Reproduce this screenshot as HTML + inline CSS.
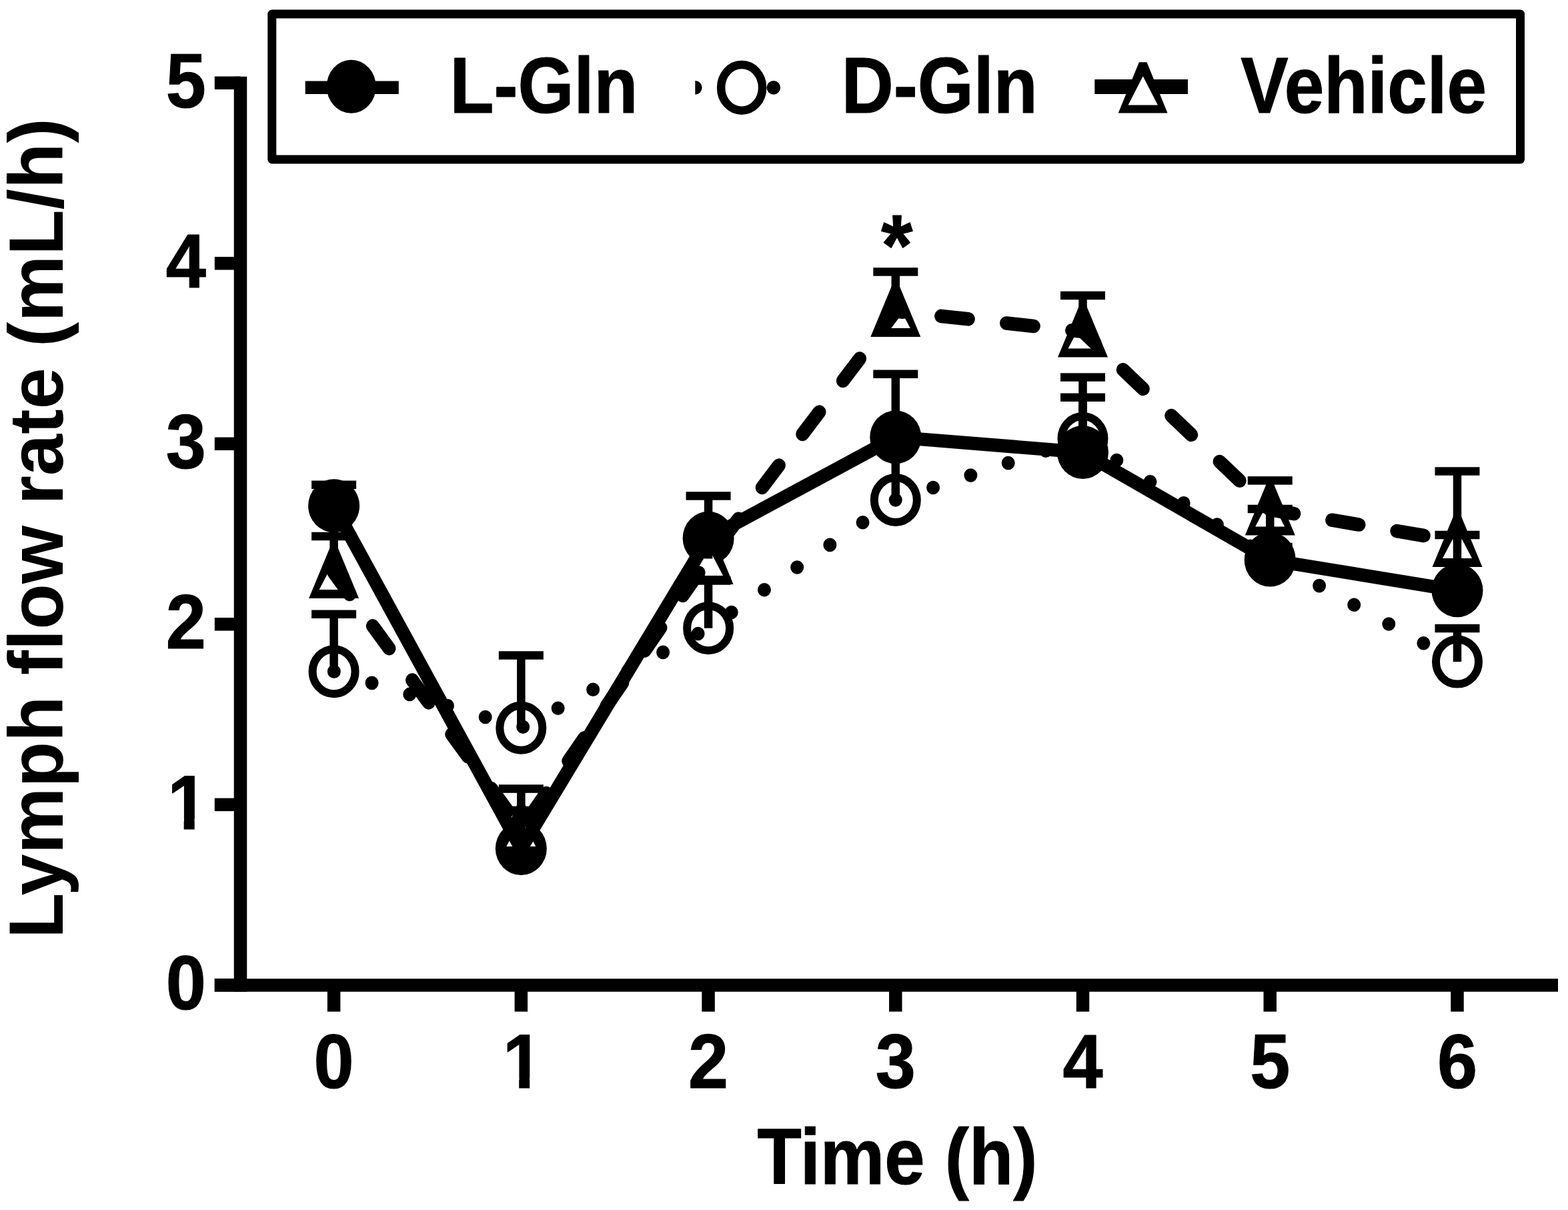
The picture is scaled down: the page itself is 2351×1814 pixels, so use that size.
<!DOCTYPE html><html><head><meta charset="utf-8"><style>html,body{margin:0;padding:0;background:#fff;}svg{display:block;}text{font-family:"Liberation Sans",Arial,sans-serif;font-weight:bold;fill:#000;stroke:#000;stroke-width:1.1px;stroke-linejoin:round;}</style></head><body>
<svg width="2351" height="1814" viewBox="0 0 2351 1814">
<rect width="2351" height="1814" fill="#fff"/>
<rect x="407.8" y="21.1" width="1871.7" height="217.9" fill="none" stroke="#000" stroke-width="13" stroke-linejoin="round"/>
<rect x="457.7" y="121.5" width="140.1" height="19.5" fill="#000"/>
<ellipse cx="526.7" cy="129.8" rx="37" ry="40" fill="#000"/>
<path d="M1042.3,121.1 A10.3,10.3 0 0 1 1042.3,141.7 Z" fill="#000"/>
<circle cx="1159.8" cy="131.4" r="10.3" fill="#000"/>
<ellipse cx="1112.1" cy="131.4" rx="31" ry="34.3" fill="#fff" stroke="#000" stroke-width="12.5"/>
<rect x="1641.3" y="119" width="139.7" height="22" fill="#000"/>
<path d="M1707.9,93.2 L1719.5,93.2 L1750.6,169.5 L1676.7,169.5 Z" fill="#000"/><path d="M1713.7,114.2 L1735.9,157.5 L1691.5,157.5 Z" fill="#fff"/>
<text transform="translate(674.50,168.80) scale(1,1.1000)" font-size="108" text-anchor="start" >L-Gln</text>
<text transform="translate(1261.70,169.00) scale(1,1.1000)" font-size="108" text-anchor="start" >D-Gln</text>
<text transform="translate(1860.20,168.90) scale(1,1.1100)" font-size="107" text-anchor="start" >Vehicle</text>
<rect x="350.75" y="114.8" width="19.5" height="1372.0" fill="#000"/>
<rect x="321.8" y="1467.25" width="2014.2" height="19.5" fill="#000"/>
<rect x="321.8" y="1467.05" width="38.7" height="19.5" fill="#000"/>
<text transform="translate(278.80,1513.10) scale(1,1.0700)" font-size="108" text-anchor="middle" >0</text>
<rect x="321.8" y="1196.55" width="38.7" height="19.5" fill="#000"/>
<text transform="translate(281.30,1242.60) scale(1,1.0700)" font-size="108" text-anchor="middle" >1</text>
<rect x="321.8" y="926.05" width="38.7" height="19.5" fill="#000"/>
<text transform="translate(278.80,972.10) scale(1,1.0700)" font-size="108" text-anchor="middle" >2</text>
<rect x="321.8" y="655.55" width="38.7" height="19.5" fill="#000"/>
<text transform="translate(278.80,701.60) scale(1,1.0700)" font-size="108" text-anchor="middle" >3</text>
<rect x="321.8" y="385.05" width="38.7" height="19.5" fill="#000"/>
<text transform="translate(278.80,431.10) scale(1,1.0700)" font-size="108" text-anchor="middle" >4</text>
<rect x="321.8" y="114.55" width="38.7" height="19.5" fill="#000"/>
<text transform="translate(278.80,160.60) scale(1,1.0700)" font-size="108" text-anchor="middle" >5</text>
<rect x="490.85" y="1477" width="19.5" height="39.6" fill="#000"/>
<text transform="translate(500.60,1630.80) scale(1,1.0700)" font-size="108" text-anchor="middle" >0</text>
<rect x="771.58" y="1477" width="19.5" height="39.6" fill="#000"/>
<text transform="translate(783.83,1630.80) scale(1,1.0700)" font-size="108" text-anchor="middle" >1</text>
<rect x="1052.31" y="1477" width="19.5" height="39.6" fill="#000"/>
<text transform="translate(1062.06,1630.80) scale(1,1.0700)" font-size="108" text-anchor="middle" >2</text>
<rect x="1333.04" y="1477" width="19.5" height="39.6" fill="#000"/>
<text transform="translate(1342.79,1630.80) scale(1,1.0700)" font-size="108" text-anchor="middle" >3</text>
<rect x="1613.77" y="1477" width="19.5" height="39.6" fill="#000"/>
<text transform="translate(1623.52,1630.80) scale(1,1.0700)" font-size="108" text-anchor="middle" >4</text>
<rect x="1894.50" y="1477" width="19.5" height="39.6" fill="#000"/>
<text transform="translate(1904.25,1630.80) scale(1,1.0700)" font-size="108" text-anchor="middle" >5</text>
<rect x="2175.23" y="1477" width="19.5" height="39.6" fill="#000"/>
<text transform="translate(2184.98,1630.80) scale(1,1.0700)" font-size="108" text-anchor="middle" >6</text>
<rect x="249.3" y="1227.6" width="26.4" height="17.5" fill="#fff"/>
<rect x="291.7" y="1227.6" width="22" height="17.5" fill="#fff"/>
<rect x="751.8" y="1615.8" width="26.4" height="17.5" fill="#fff"/>
<rect x="794.2" y="1615.8" width="22" height="17.5" fill="#fff"/>
<text transform="translate(1135.40,1774.50) scale(1,1.0940)" font-size="108.5" text-anchor="start" >Time (h)</text>
<text transform="translate(93.7,1407.02) rotate(-90) scale(1,1.03)" font-size="112.2" style="stroke:none">Lymph flow rate (mL/h)</text>
<text transform="translate(1321.20,413.00) scale(1,1.0660)" font-size="121" text-anchor="start" >*</text>
<ellipse cx="500.6" cy="1006.7" rx="32.0" ry="33.5" fill="#fff" stroke="#000" stroke-width="12"/>
<ellipse cx="781.3" cy="1091.2" rx="32.0" ry="33.5" fill="#fff" stroke="#000" stroke-width="12"/>
<ellipse cx="1062.1" cy="941.7" rx="32.0" ry="33.5" fill="#fff" stroke="#000" stroke-width="12"/>
<ellipse cx="1342.8" cy="749.5" rx="32.0" ry="33.5" fill="#fff" stroke="#000" stroke-width="12"/>
<ellipse cx="1623.5" cy="657.5" rx="32.0" ry="33.5" fill="#fff" stroke="#000" stroke-width="12"/>
<ellipse cx="1904.2" cy="837.4" rx="32.0" ry="33.5" fill="#fff" stroke="#000" stroke-width="12"/>
<ellipse cx="2185.0" cy="992.1" rx="32.0" ry="33.5" fill="#fff" stroke="#000" stroke-width="12"/>
<ellipse cx="500.6" cy="758.3" rx="38.5" ry="40" fill="#000"/>
<ellipse cx="781.3" cy="1272.0" rx="38.5" ry="40" fill="#000"/>
<ellipse cx="1062.1" cy="806.7" rx="38.5" ry="40" fill="#000"/>
<ellipse cx="1342.8" cy="655.4" rx="38.5" ry="40" fill="#000"/>
<ellipse cx="1623.5" cy="678.0" rx="38.5" ry="40" fill="#000"/>
<ellipse cx="1904.2" cy="839.5" rx="38.5" ry="40" fill="#000"/>
<ellipse cx="2185.0" cy="885.3" rx="38.5" ry="40" fill="#000"/>
<path d="M495.1,820.0 L506.1,820.0 L538.1,897.0 L463.1,897.0 Z" fill="#000"/><path d="M500.6,842.0 L522.6,884.0 L478.6,884.0 Z" fill="#fff"/>
<path d="M775.8,1205.0 L786.8,1205.0 L818.8,1282.0 L743.8,1282.0 Z" fill="#000"/><path d="M781.3,1227.0 L803.3,1269.0 L759.3,1269.0 Z" fill="#fff"/>
<path d="M1056.6,799.0 L1067.6,799.0 L1099.6,876.0 L1024.6,876.0 Z" fill="#000"/><path d="M1062.1,821.0 L1084.1,863.0 L1040.1,863.0 Z" fill="#fff"/>
<path d="M1337.3,428.0 L1348.3,428.0 L1380.3,505.0 L1305.3,505.0 Z" fill="#000"/><path d="M1342.8,450.0 L1364.8,492.0 L1320.8,492.0 Z" fill="#fff"/>
<path d="M1618.0,458.5 L1629.0,458.5 L1661.0,535.5 L1586.0,535.5 Z" fill="#000"/><path d="M1623.5,480.5 L1645.5,522.5 L1601.5,522.5 Z" fill="#fff"/>
<path d="M1898.8,725.5 L1909.8,725.5 L1941.8,802.5 L1866.8,802.5 Z" fill="#000"/><path d="M1904.2,747.5 L1926.2,789.5 L1882.2,789.5 Z" fill="#fff"/>
<path d="M2179.5,773.0 L2190.5,773.0 L2222.5,850.0 L2147.5,850.0 Z" fill="#000"/><path d="M2185.0,795.0 L2207.0,837.0 L2163.0,837.0 Z" fill="#fff"/>
<rect x="494.35" y="920.8" width="12.5" height="85.9" fill="#000"/>
<rect x="467.10" y="914.55" width="67" height="12.5" fill="#000"/>
<rect x="775.08" y="982.5" width="12.5" height="108.7" fill="#000"/>
<rect x="747.83" y="976.25" width="67" height="12.5" fill="#000"/>
<rect x="1055.81" y="870.5" width="12.5" height="71.2" fill="#000"/>
<rect x="1028.56" y="864.25" width="67" height="12.5" fill="#000"/>
<rect x="1336.54" y="660.0" width="12.5" height="89.5" fill="#000"/>
<rect x="1309.29" y="653.75" width="67" height="12.5" fill="#000"/>
<rect x="1617.27" y="565.6" width="12.5" height="91.9" fill="#000"/>
<rect x="1590.02" y="559.35" width="67" height="12.5" fill="#000"/>
<rect x="1898.00" y="820.0" width="12.5" height="17.4" fill="#000"/>
<rect x="1870.75" y="813.75" width="67" height="12.5" fill="#000"/>
<rect x="2178.73" y="942.0" width="12.5" height="50.1" fill="#000"/>
<rect x="2151.48" y="935.75" width="67" height="12.5" fill="#000"/>
<rect x="494.35" y="726.8" width="12.5" height="31.5" fill="#000"/>
<rect x="467.10" y="720.55" width="67" height="12.5" fill="#000"/>
<rect x="775.08" y="1215.0" width="12.5" height="57.0" fill="#000"/>
<rect x="747.83" y="1208.75" width="67" height="12.5" fill="#000"/>
<rect x="1055.81" y="743.5" width="12.5" height="63.2" fill="#000"/>
<rect x="1028.56" y="737.25" width="67" height="12.5" fill="#000"/>
<rect x="1336.54" y="560.8" width="12.5" height="94.6" fill="#000"/>
<rect x="1309.29" y="554.55" width="67" height="12.5" fill="#000"/>
<rect x="1617.27" y="595.8" width="12.5" height="82.2" fill="#000"/>
<rect x="1590.02" y="589.55" width="67" height="12.5" fill="#000"/>
<rect x="1898.00" y="763.0" width="12.5" height="76.5" fill="#000"/>
<rect x="1870.75" y="756.75" width="67" height="12.5" fill="#000"/>
<rect x="2178.73" y="802.0" width="12.5" height="83.3" fill="#000"/>
<rect x="2151.48" y="795.75" width="67" height="12.5" fill="#000"/>
<rect x="494.35" y="804.0" width="12.5" height="54.5" fill="#000"/>
<rect x="467.10" y="797.75" width="67" height="12.5" fill="#000"/>
<rect x="775.08" y="1182.5" width="12.5" height="61.0" fill="#000"/>
<rect x="747.83" y="1176.25" width="67" height="12.5" fill="#000"/>
<rect x="1055.81" y="800.0" width="12.5" height="37.5" fill="#000"/>
<rect x="1028.56" y="793.75" width="67" height="12.5" fill="#000"/>
<rect x="1336.54" y="407.5" width="12.5" height="59.0" fill="#000"/>
<rect x="1309.29" y="401.25" width="67" height="12.5" fill="#000"/>
<rect x="1617.27" y="443.0" width="12.5" height="54.0" fill="#000"/>
<rect x="1590.02" y="436.75" width="67" height="12.5" fill="#000"/>
<rect x="1898.00" y="720.4" width="12.5" height="43.6" fill="#000"/>
<rect x="1870.75" y="714.15" width="67" height="12.5" fill="#000"/>
<rect x="2178.73" y="706.5" width="12.5" height="105.0" fill="#000"/>
<rect x="2151.48" y="700.25" width="67" height="12.5" fill="#000"/>
<polyline points="500.60,758.30 781.33,1272.00 1062.06,806.70 1342.79,655.40 1623.52,678.00 1904.25,839.50 2184.98,885.30" fill="none" stroke="#000" stroke-width="20" stroke-linejoin="miter" stroke-miterlimit="10"/>
<g transform="scale(1,1.03)">
<polyline points="500.60,977.38 781.33,1059.42 1062.06,914.27 1342.79,727.67 1623.52,638.35 1904.25,813.01 2184.98,963.20" fill="none" stroke="#000" stroke-width="20" stroke-linecap="round" stroke-dasharray="0 59.083" stroke-dashoffset="-0.25"/>
<polyline points="500.60,833.50 781.33,1207.28 1062.06,813.11 1342.79,452.91 1623.52,482.52 1904.25,741.75 2184.98,787.86" fill="none" stroke="#000" stroke-width="20" stroke-linecap="round" stroke-linejoin="round" stroke-dasharray="41 57.55" stroke-dashoffset="1.55"/>
</g>
</svg></body></html>
